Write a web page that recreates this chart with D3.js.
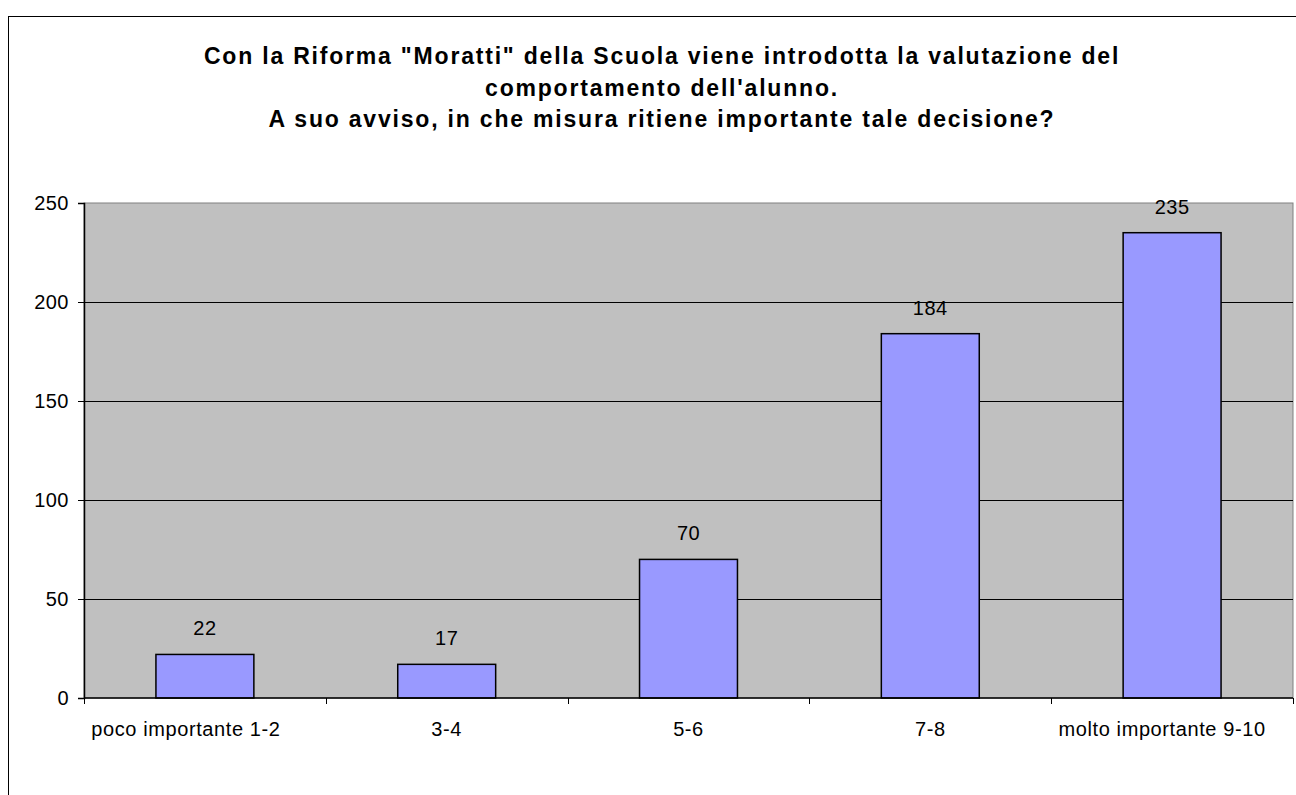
<!DOCTYPE html>
<html>
<head>
<meta charset="utf-8">
<script src="https://cdn.jsdelivr.net/npm/d3@7"></script>
<style>
  body { margin: 0; background: #fff; }
  svg { display: block; font-family: Arial, "Liberation Sans", sans-serif; }
</style>
</head>
<body>
<svg id="chart"></svg>
<script>
// data
const categories = ["poco importante 1-2", "3-4", "5-6", "7-8", "molto importante 9-10"];
const values = [22, 17, 70, 184, 235];
const yTicks = [0, 50, 100, 150, 200, 250];
const titleLines = [
  "Con la Riforma \"Moratti\" della Scuola viene introdotta la valutazione del",
  "comportamento dell'alunno.",
  "A suo avviso, in che misura ritiene importante tale decisione?"
];

const W = 1296, H = 795;
const margin = { top: 203, right: 3, bottom: 97, left: 84 };
const width = W - margin.left - margin.right;
const height = H - margin.top - margin.bottom;

const svg = d3.select('#chart')
  .attr('width', W)
  .attr('height', H);

// outer chart border (runs off the canvas on right/bottom)
svg.append('rect')
  .attr('x', 8.5).attr('y', 16.5)
  .attr('width', 1306).attr('height', 800)
  .attr('fill', 'none')
  .attr('stroke', '#000')
  .attr('stroke-width', 1);

// title
svg.append('g')
  .selectAll('text')
  .data(titleLines)
  .join('text')
  .attr('x', 662)
  .attr('y', (d, i) => 64 + i * 31.5)
  .attr('text-anchor', 'middle')
  .style('font-weight', 'bold')
  .style('font-size', '23px')
  .style('letter-spacing', '1.8px')
  .text(d => d);

const chart = svg.append('g')
  .attr('transform', `translate(${margin.left},${margin.top})`);

const x = d3.scaleBand()
  .domain(categories)
  .range([0, width]);

const y = d3.scaleLinear()
  .domain([0, 250])
  .range([height, 0]);

// plot background
chart.append('rect')
  .attr('width', width)
  .attr('height', height)
  .attr('fill', '#c0c0c0')
  .attr('stroke', '#808080')
  .attr('stroke-width', 1);

// gridlines
chart.selectAll('.grid')
  .data(yTicks.filter(d => d > 0 && d < 250))
  .join('line')
  .attr('class', 'grid')
  .attr('x1', 0).attr('x2', width)
  .attr('y1', d => Math.round(y(d)) + 0.5)
  .attr('y2', d => Math.round(y(d)) + 0.5)
  .attr('stroke', '#000')
  .attr('stroke-width', 1);

// bars
const barW = x.bandwidth() * 0.405;
chart.selectAll('.bar')
  .data(values)
  .join('rect')
  .attr('class', 'bar')
  .attr('x', (d, i) => x(categories[i]) + x.bandwidth() / 2 - barW / 2)
  .attr('y', d => y(d))
  .attr('width', barW)
  .attr('height', d => height - y(d))
  .attr('fill', '#9999ff')
  .attr('stroke', '#000')
  .attr('stroke-width', 1.5);

// value labels
chart.selectAll('.val')
  .data(values)
  .join('text')
  .attr('class', 'val')
  .attr('x', (d, i) => x(categories[i]) + x.bandwidth() / 2)
  .attr('y', d => y(d) - 19)
  .attr('text-anchor', 'middle')
  .style('font-size', '20px')
  .style('letter-spacing', '0.5px')
  .text(d => d);

// y axis
const yAxis = d3.axisLeft(y)
  .tickValues(yTicks)
  .tickSize(6)
  .tickPadding(9);
const yg = chart.append('g').call(yAxis);
yg.select('.domain').attr('stroke', '#000').attr('stroke-width', 1.5);
yg.selectAll('text')
  .style('font-size', '20px')
  .style('letter-spacing', '0.5px')
  .attr('fill', '#000');

// x axis
const xAxis = d3.axisBottom(x)
  .tickSize(0)
  .tickPadding(0);
const xg = chart.append('g')
  .attr('transform', `translate(0,${height})`)
  .call(xAxis);
xg.select('.domain').remove();
// long labels sit a bit left of the slot centre in the original
xg.selectAll('text')
  .attr('dy', null)
  .attr('y', 38)
  .attr('dx', (d, i) => i === 0 ? -19 : (i === categories.length - 1 ? -10 : 0))
  .style('font-size', '20px')
  .style('letter-spacing', '0.6px')
  .attr('fill', '#000');

chart.append('line')
  .attr('x1', 0).attr('x2', width)
  .attr('y1', height).attr('y2', height)
  .attr('stroke', '#000')
  .attr('stroke-width', 1.5);

// category separator ticks below the axis
chart.selectAll('.xtick')
  .data(d3.range(categories.length + 1))
  .join('line')
  .attr('class', 'xtick')
  .attr('x1', i => Math.round(i * x.step()) + 0.5)
  .attr('x2', i => Math.round(i * x.step()) + 0.5)
  .attr('y1', height)
  .attr('y2', height + 6)
  .attr('stroke', '#000');
</script>
</body>
</html>
